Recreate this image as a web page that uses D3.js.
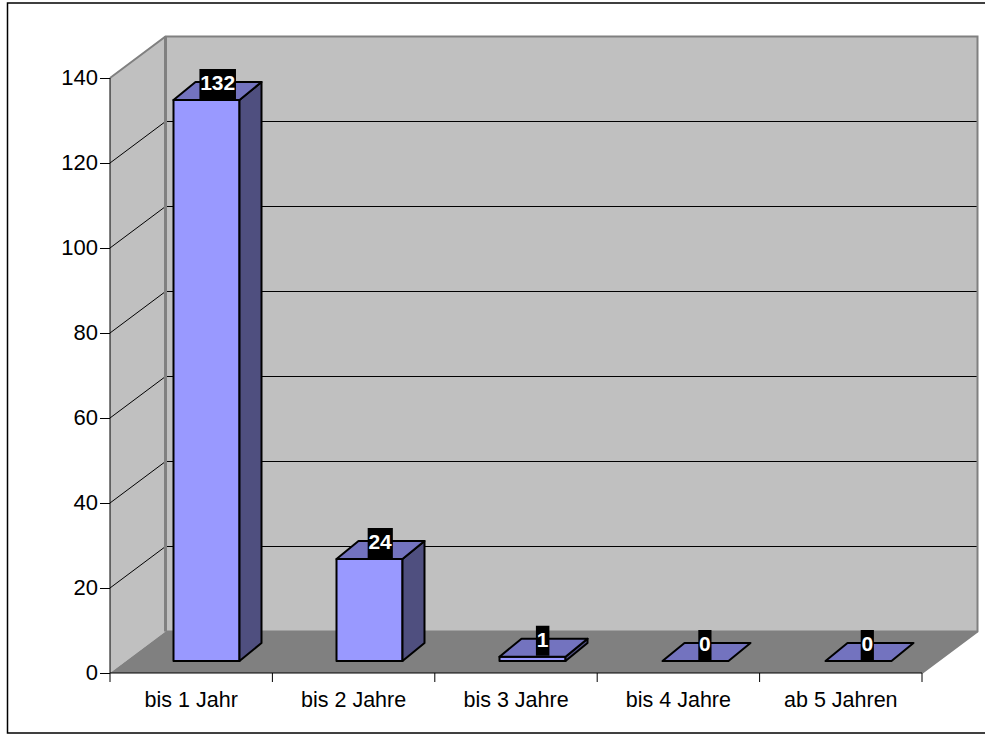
<!DOCTYPE html>
<html>
<head>
<meta charset="utf-8">
<script src="https://cdn.jsdelivr.net/npm/d3@7"></script>
<style>
html, body { margin: 0; padding: 0; background: #fff; }
svg { display: block; }
text { font-family: "Liberation Sans", Arial, sans-serif; }
</style>
</head>
<body>
<div id="chart"></div>
<script>
const categories = ["bis 1 Jahr", "bis 2 Jahre", "bis 3 Jahre", "bis 4 Jahre", "ab 5 Jahren"]
const values = [132, 24, 1, 0, 0]
const yTicks = [0, 20, 40, 60, 80, 100, 120, 140]

const width = 985, height = 735
const x = d3.scaleBand().domain(categories).range([110, 922])
// bars sit a little wider apart than the axis ticks in the picture
const xBars = d3.scaleBand().domain(categories).range([109, 924])
const y = d3.scaleLinear().domain([0, 140]).range([673, 78])

// 3d offsets, the walls and the bars are the same shape pushed back
const depth = [55.5, -41.5]
const barFront = [16, -12]
const barBack = [38, -30]
const barWidth = 66

const svg = d3.select("#chart").append("svg")
    .attr("width", width)
    .attr("height", height)
    .attr("viewBox", [0, 0, width, height])

const poly = pts => pts.map(p => p.join(",")).join(" ")
const x0 = x.range()[0], x1 = x.range()[1]
const yTop = y(140), yBase = y(0)

//outer frame
svg.append("rect")
    .attr("x", 7.5).attr("y", 3)
    .attr("width", 990).attr("height", 730)
    .attr("fill", "#fff").attr("stroke", "#000").attr("stroke-width", 1.5)

//left wall
svg.append("polygon")
    .attr("points", poly([[x0, yBase], [x0, yTop], [x0 + depth[0], yTop + depth[1]], [x0 + depth[0], yBase + depth[1]]]))
    .attr("fill", "#c0c0c0")

//back wall
svg.append("rect")
    .attr("x", x0 + depth[0]).attr("y", yTop + depth[1])
    .attr("width", x1 - x0).attr("height", yBase - yTop)
    .attr("fill", "#c0c0c0")

//floor
svg.append("polygon")
    .attr("points", poly([[x0, yBase], [x1, yBase], [x1 + depth[0], yBase + depth[1]], [x0 + depth[0], yBase + depth[1]]]))
    .attr("fill", "#808080")

//gridlines
svg.append("g").selectAll("polyline")
    .data(yTicks.slice(1, -1))
    .join("polyline")
    .attr("points", d => poly([[x0, y(d)], [x0 + depth[0], y(d) + depth[1]], [x1 + depth[0], y(d) + depth[1]]]))
    .attr("fill", "none")
    .attr("stroke", "#000")
    .attr("stroke-width", 1)

//grey wall edges
svg.append("polyline")
    .attr("points", poly([[x0, yTop], [x0 + depth[0], yTop + depth[1]], [x1 + depth[0], yTop + depth[1]], [x1 + depth[0], yBase + depth[1]], [x1, yBase]]))
    .attr("fill", "none").attr("stroke", "#808080").attr("stroke-width", 2)
svg.append("line")
    .attr("x1", x0 + depth[0]).attr("x2", x0 + depth[0])
    .attr("y1", yTop + depth[1]).attr("y2", yBase + depth[1])
    .attr("stroke", "#808080").attr("stroke-width", 3)
svg.append("line")
    .attr("x1", x0 + depth[0]).attr("x2", x1 + depth[0])
    .attr("y1", yBase + depth[1]).attr("y2", yBase + depth[1])
    .attr("stroke", "#808080").attr("stroke-width", 2)

//bars
const bars = svg.append("g").selectAll("g")
    .data(categories.map((c, i) => ({c, v: values[i]})))
    .join("g")
    .attr("stroke", "#000")
    .attr("stroke-width", 2)
    .attr("stroke-linejoin", "round")

const left = d => xBars(d.c) + (xBars.bandwidth() - barWidth) / 2
const corner = (d, off, val, side) => [left(d) + side * barWidth + off[0], y(val) + off[1]]

bars.filter(d => d.v > 0).append("polygon")
    .attr("fill", "#9999ff")
    .attr("points", d => poly([corner(d, barFront, 0, 0), corner(d, barFront, 0, 1), corner(d, barFront, d.v, 1), corner(d, barFront, d.v, 0)]))
bars.filter(d => d.v > 0).append("polygon")
    .attr("fill", "#4f4f7f")
    .attr("points", d => poly([corner(d, barFront, 0, 1), corner(d, barBack, 0, 1), corner(d, barBack, d.v, 1), corner(d, barFront, d.v, 1)]))
bars.append("polygon")
    .attr("fill", "#7373bf")
    .attr("points", d => poly([corner(d, barFront, d.v, 0), corner(d, barFront, d.v, 1), corner(d, barBack, d.v, 1), corner(d, barBack, d.v, 0)]))

//value labels, black box behind white text
const labels = svg.append("g").selectAll("g")
    .data(categories.map((c, i) => ({c, v: values[i]})))
    .join("g")
    .attr("transform", d => `translate(${x(d.c) + x.bandwidth() / 2 + 26.5},${y(d.v) + barFront[1] - 16})`)

labels.append("text")
    .attr("text-anchor", "middle")
    .attr("dy", "0.28em")
    .attr("font-size", 21)
    .attr("font-weight", "bold")
    .attr("fill", "#fff")
    .text(d => d.v)
    .each(function () {
        const b = this.getBBox()
        d3.select(this.parentNode).insert("rect", "text")
            .attr("x", b.x - 0.75).attr("y", -15)
            .attr("width", b.width + 1.5).attr("height", 30)
            .attr("fill", "#000")
    })

//axes
const yAxis = d3.axisLeft(y).tickValues(yTicks).tickSize(10).tickPadding(2)
const yG = svg.append("g").attr("transform", `translate(${x0},0)`).call(yAxis)
yG.selectAll("text").attr("font-size", 22).attr("font-family", "Liberation Sans").attr("fill", "#000").attr("dy", "0.3em")
yG.select(".domain").attr("stroke", "#000").attr("d", `M0,${yTop}V${yBase}`)

const xAxis = d3.axisBottom(x).tickSize(0).tickPadding(19)
const xG = svg.append("g").attr("transform", `translate(0,${yBase})`).call(xAxis)
xG.selectAll("text").attr("font-size", 21.5).attr("font-family", "Liberation Sans").attr("fill", "#000")
xG.select(".domain").attr("stroke", "#000").attr("d", `M${x0},0H${x1}`)

xG.append("g").selectAll("line")
    .data(categories.map(c => x(c)).concat(x1))
    .join("line")
    .attr("x1", d => d).attr("x2", d => d)
    .attr("y1", 0).attr("y2", 9)
    .attr("stroke", "#000")
</script>
</body>
</html>
